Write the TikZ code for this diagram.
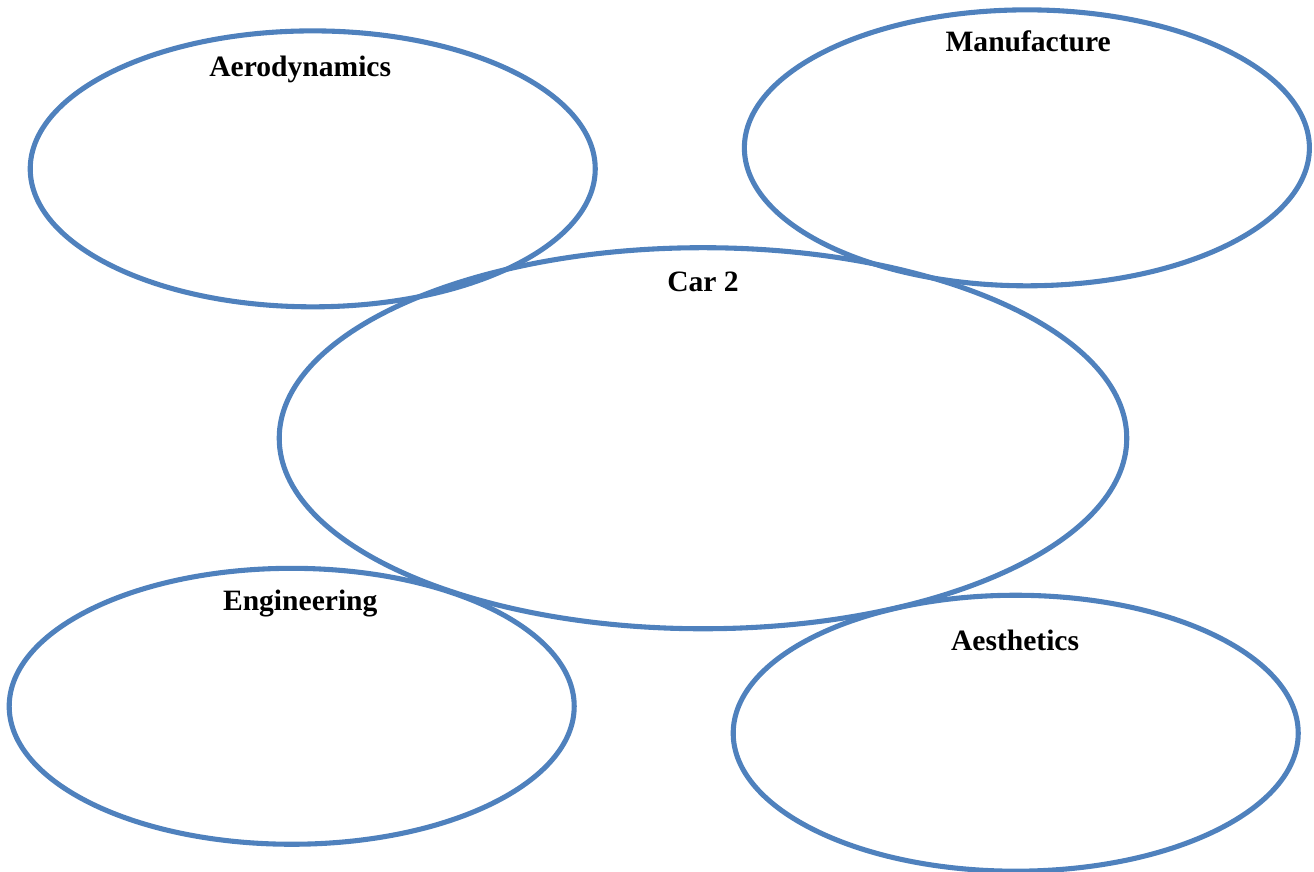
\documentclass[tikz,border=0pt]{standalone}
\usepackage{fontspec}
\setmainfont{Liberation Serif}
\usepackage{tikz}
\usetikzlibrary{shapes.geometric, positioning}
\definecolor{OffBlue}{RGB}{79,129,189}

\begin{document}
\begin{tikzpicture}[
      topic/.style={ellipse, draw=OffBlue, line width=2.2pt, inner sep=0pt,
                    minimum width=8.6cm, minimum height=4.2cm},
      hub/.style={topic, minimum width=12.9cm, minimum height=5.8cm},
      lbl/.style={font=\fontsize{12.8}{15}\selectfont\bfseries, inner sep=1pt}
    ]
    \useasboundingbox (0,0) rectangle (20,-13.27);

    % outer topics
    \node[topic] (aero)  at (4.76, -2.57)  {};
    \node[lbl]   (aerolbl) at (4.57, -1.05) {Aerodynamics};

    \node[topic] (manuf) at (15.63, -2.25) {};
    \node[lbl]   (manuflbl) at (15.65, -0.63) {Manufacture};

    \node[topic] (eng)   at (4.44, -10.75) {};
    \node[lbl]   (englbl) at (4.57, -9.19) {Engineering};

    \node[topic] (aest)  at (15.46, -11.16) {};
    \node[lbl]   (aestlbl) at (15.45, -9.75) {Aesthetics};

    % centre
    \node[hub] (car) at (10.70, -6.67) {};
    \node[lbl] (carlbl) at (10.70, -4.29) {Car 2};
\end{tikzpicture}
\end{document}
